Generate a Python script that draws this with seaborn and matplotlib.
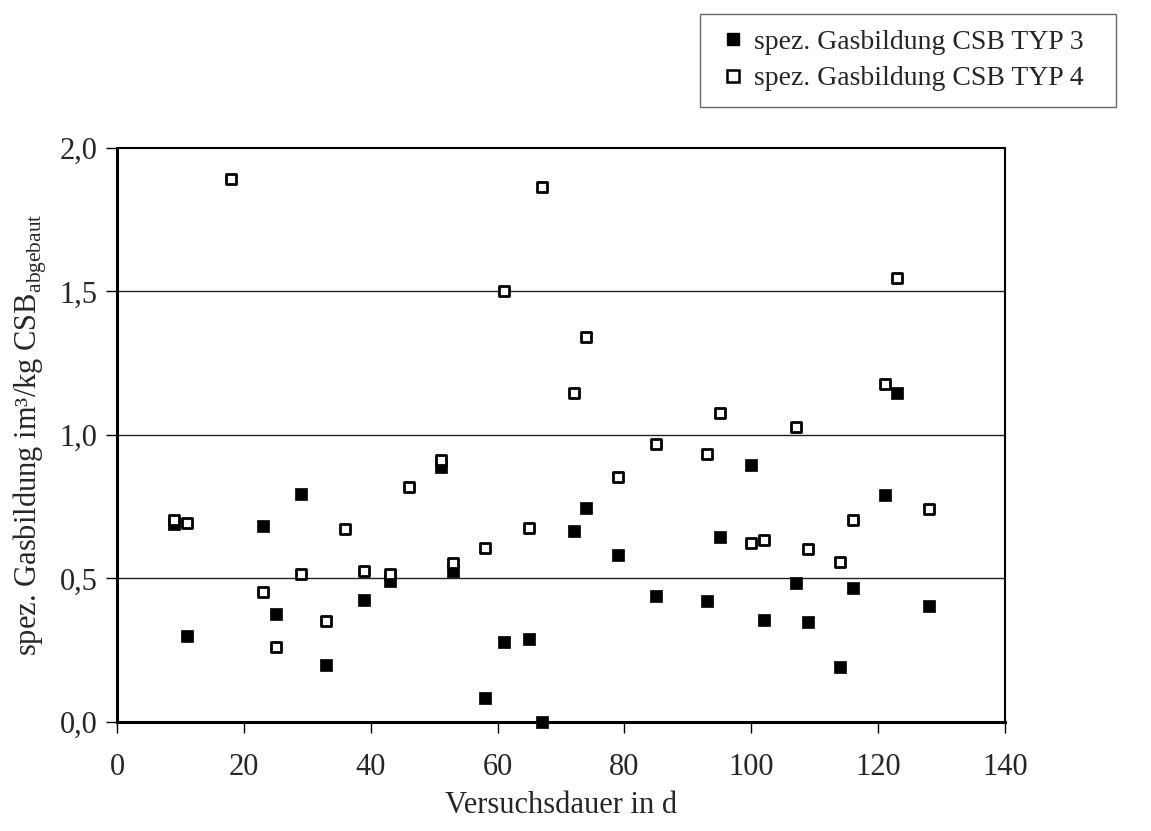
import numpy as np
import pandas as pd
import matplotlib
matplotlib.use("Agg")
import matplotlib.pyplot as plt
import seaborn as sns
from matplotlib.ticker import FuncFormatter
from matplotlib.lines import Line2D

# Daten
tage_typ3 = [9, 11, 23, 25, 29, 33, 39, 43, 51, 53, 58, 61, 65, 67, 72, 74, 79,
             85, 93, 95, 100, 102, 107, 109, 114, 116, 121, 123, 128]
gas_typ3 = [0.69, 0.30, 0.683, 0.377, 0.795, 0.199, 0.424, 0.492, 0.89, 0.525,
            0.084, 0.279, 0.289, 0.0, 0.665, 0.745, 0.583, 0.439, 0.42, 0.645,
            0.895, 0.356, 0.483, 0.347, 0.191, 0.467, 0.791, 1.145, 0.405]

tage_typ4 = [9, 11, 18, 23, 25, 29, 33, 36, 39, 43, 46, 51, 53, 58, 61, 65, 67,
             72, 74, 79, 85, 93, 95, 100, 102, 107, 109, 114, 116, 121, 123, 128]
gas_typ4 = [0.703, 0.695, 1.892, 0.453, 0.261, 0.516, 0.353, 0.672, 0.525, 0.516,
            0.82, 0.913, 0.553, 0.605, 1.50, 0.676, 1.865, 1.145, 1.343, 0.852,
            0.967, 0.933, 1.076, 0.625, 0.633, 1.029, 0.603, 0.556, 0.705, 1.179,
            1.548, 0.742]

label3 = "spez. Gasbildung CSB TYP 3"
label4 = "spez. Gasbildung CSB TYP 4"

sns.set_theme(style="white")
plt.rcParams['font.family'] = ['Liberation Serif', 'DejaVu Serif']
plt.rcParams['mathtext.fontset'] = 'custom'
plt.rcParams['mathtext.rm'] = 'Liberation Serif'

df3 = pd.DataFrame({'tage': tage_typ3, 'gas': gas_typ3})
df4 = pd.DataFrame({'tage': tage_typ4, 'gas': gas_typ4})

fig = plt.figure(figsize=(11.51, 8.31), dpi=100)
ax = fig.add_axes([0.1017, 0.1312, 0.7715, 0.6907])

# horizontale Gitterlinien
for yv in [0.5, 1.0, 1.5]:
    ax.axhline(yv, color='#222222', lw=1.0, zorder=1)

sns.scatterplot(data=df3, x='tage', y='gas', marker='s', s=85, color='black',
                edgecolor='black', linewidth=0.5, ax=ax, zorder=3,
                clip_on=False, legend=False)
sns.scatterplot(data=df4, x='tage', y='gas', marker='s', s=60, color='white',
                edgecolor='black', linewidth=2.0, ax=ax, zorder=4,
                clip_on=False, legend=False)

ax.set_xlim(0, 140)
ax.set_ylim(0, 2.0)
ax.set_xticks(np.arange(0, 141, 20))
ax.set_yticks([0, 0.5, 1.0, 1.5, 2.0])
ax.yaxis.set_major_formatter(FuncFormatter(lambda v, p: f"{v:.1f}".replace('.', ',')))

for sp in ax.spines.values():
    sp.set_color('black')
    sp.set_linewidth(1.5)
ax.spines['left'].set_linewidth(2.2)
ax.spines['bottom'].set_linewidth(2.2)

ax.tick_params(axis='both', direction='out', length=8, width=1, color='black',
               labelsize=22, left=True, bottom=True)
ax.tick_params(axis='y', pad=6)
ax.tick_params(axis='x', pad=14)

ax.set_xlabel("Versuchsdauer in d", fontsize=22, labelpad=7)
ax.set_ylabel(r"spez. Gasbildung im³/kg CSB$_{\mathregular{abgebaut}}$", fontsize=22, labelpad=8)

# Legende außerhalb der Achse
handles = [Line2D([], [], marker='s', linestyle='none', markersize=9,
                  markerfacecolor='black', markeredgecolor='black'),
           Line2D([], [], marker='s', linestyle='none', markersize=8,
                  markerfacecolor='white', markeredgecolor='black', markeredgewidth=1.8)]
leg = fig.legend(handles, [label3, label4], loc='upper left',
                 bbox_to_anchor=(0.608, 0.880, 0.362, 0.103), mode='expand',
                 fontsize=20, frameon=True, fancybox=False, borderpad=0.55,
                 labelspacing=0.4, handletextpad=0.1, handlelength=1.3,
                 borderaxespad=0)
leg.get_frame().set_edgecolor('#444444')
leg.get_frame().set_linewidth(1.0)

fig.savefig("out.png", dpi=100)
